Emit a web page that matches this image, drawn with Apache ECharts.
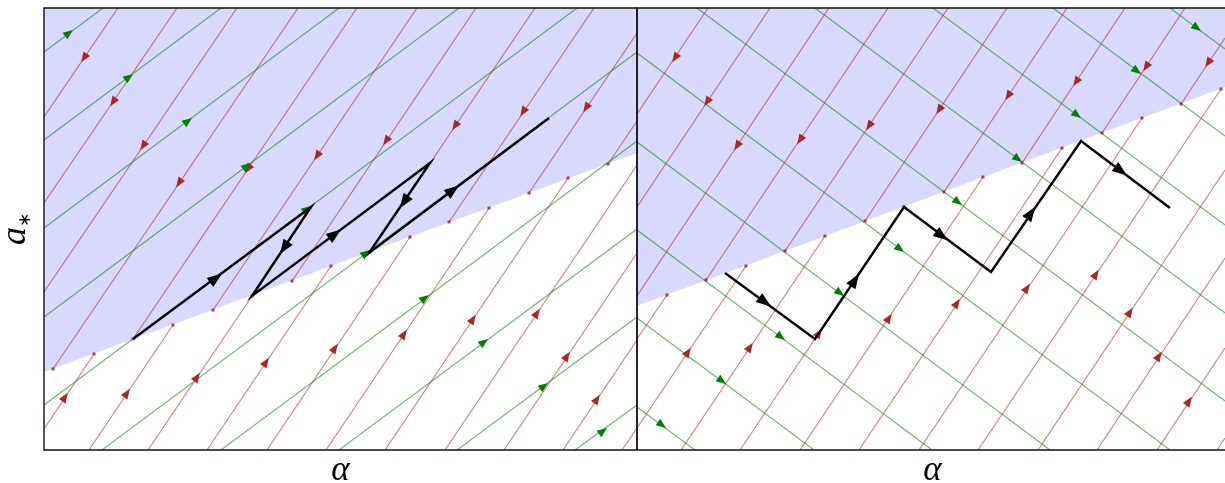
<!DOCTYPE html>
<html><head><meta charset="utf-8">
<script src="https://cdn.jsdelivr.net/npm/echarts@6/dist/echarts.min.js"></script>
<style>html,body{margin:0;padding:0;background:#fff}#c{width:1225px;height:483px}</style>
</head><body><div id="c"></div>
<script>
// ---------- data (alpha, a*) ----------
const xRange1 = [44, 637];
const xRange2 = [637, 1228];
const yRange = [8, 450];
const xLabel = 'α';

// Panel 1 : switching line and trajectories
const p1Boundary = [[44, 372], [637, 153]];
const p1RedUpper = [ // [x1,y1,x2,y2], flow toward (x1,y1)
  [44,117,118,8],[44,203,177,8],[44,292,237,8],[53,369,298,8],[133,339,357,8],
  [213,310,417,8],[292,281,476,8],[370,252,535,8],[449,222,594,8],[529,193,637,33],[608,164,637,121]
];
const p1RedLower = [ // flow toward (x2,y2)
  [44,429,94,354],[89,450,173,325],[148,450,252,296],[207,450,331,266],[267,450,410,237],
  [326,450,489,208],[385,450,568,178],[445,450,637,165],[504,450,637,253],[563,450,637,340],[622,450,637,428]
];
const p1Green = [ // flow toward (x2,y2)
  [44,52,103,8],[44,140,221,8],[44,228,339,8],[44,317,459,8],[44,405,577,8],
  [102,450,637,52],[221,450,637,141],[339,450,637,229],[457,450,637,317],[575,450,637,405]
];
const p1RedUpperArrows = [[84,58,0],[113,102,1],[143,146,2],[179,183,3],[248,169,4],[317,156,5],[386,141,6],[455,126,7],[523,112,8],[586,108,9]];
const p1RedLowerArrows = [[65,397,0],[127,393,1],[197,377,2],[266,362,3],[335,348,4],[404,334,5],[473,319,6],[537,313,7],[567,356,8],[597,399,9]];
const p1GreenArrows = [[69,33,0],[129,77,1],[188,121,2],[247,166,3],[307,209,4],[366,253,5],[425,298,6],[484,342,7],[544,386,8],[603,431,9]];
const p1Path = [[133,339],[311,207],[252,296],[430,163],[369,253],[549,118]];
const p1PathArrows = [[216,278,0],[284,248,1],[335,234,2],[404,202,3],[453,190,4]];

// Panel 2
const p2Boundary = [[637, 306], [1228, 86]];
const p2RedUpper = [
  [637,114,708,8],[637,207,770,8],[637,296,829,8],[706,280,888,8],[785,251,948,8],
  [865,221,1007,8],[944,192,1067,8],[1022,163,1125,8],[1102,133,1185,8],[1181,104,1225,38]
];
const p2RedLower = [
  [637,339,667,295],[637,428,746,266],[681,450,825,236],[740,450,904,207],[800,450,983,177],
  [859,450,1062,148],[919,450,1142,118],[978,450,1221,89],[1038,450,1225,170],[1097,450,1225,258],
  [1157,450,1225,348],[1217,450,1225,438]
];
const p2Green = [
  [637,53,1170,450],[637,142,1050,450],[637,230,932,450],[637,318,814,450],[637,407,695,450],
  [697,8,1225,401],[815,8,1225,313],[933,8,1225,225],[1053,8,1225,136],[1170,8,1225,49]
];
const p2RedUpperArrows = [[675,58,0],[707,102,1],[737,146,2],[800,140,3],[869,126,4],[939,110,5],[1008,96,6],[1076,82,7],[1146,67,8],[1208,63,9]];
const p2RedLowerArrows = [[688,352,1],[750,347,2],[819,333,3],[889,318,4],[957,303,5],[1027,288,6],[1096,274,7],[1130,312,8],[1159,356,9],[1189,401,10]];
const p2GreenArrows = [[662,425,4],[722,381,3],[781,337,2],[840,293,1],[900,249,0],[958,202,5],[1018,159,6],[1077,115,7],[1137,71,8],[1197,28,9]];
const p2Path = [[725,273],[815,339],[904,207],[991,272],[1081,141],[1170,208]];
const p2PathArrows = [[765,302,0],[855,280,1],[942,236,2],[1031,213,3],[1121,171,4]];

// ---------- styles ----------
const SHADE = '#d9d9ff';
const RED_LINE = 'rgba(165,42,42,0.6)';
const RED_HEAD = '#a82828';
const GREEN_LINE = 'rgba(0,128,0,0.58)';
const GREEN_HEAD = '#008000';
const HEAD = 'path://M0,0L10,5L0,10Z';

const chart = echarts.init(document.getElementById('c'), null, {renderer: 'canvas'});

const serifIt = {fontFamily: 'Liberation Serif', fontStyle: 'italic', color: '#000'};
const baseAxisX = (i, r) => ({
  type: 'value', gridIndex: i, min: r[0], max: r[1],
  axisLine: {show: false}, axisTick: {show: false}, axisLabel: {show: false}, splitLine: {show: false},
  name: xLabel, nameLocation: 'middle', nameGap: 3,
  nameTextStyle: Object.assign({fontSize: 35}, serifIt)
});
const baseAxisY = (i) => ({
  type: 'value', gridIndex: i, min: yRange[0], max: yRange[1], inverse: true,
  axisLine: {show: false}, axisTick: {show: false}, axisLabel: {show: false}, splitLine: {show: false},
  name: i === 0 ? '{a|a}{s|∗}' : '', nameLocation: 'middle', nameRotate: 90, nameGap: 10,
  nameTextStyle: {rich: {
    a: Object.assign({fontSize: 36, lineHeight: 36, verticalAlign: 'middle'}, serifIt),
    s: {fontFamily: 'DejaVu Sans', fontSize: 17, color: '#000', lineHeight: 36, verticalAlign: 'bottom', padding: [13, 0, 0, 0]}
  }}
});

function segSeries(i, data, color, z) {
  return {
    type: 'custom', xAxisIndex: i, yAxisIndex: i, data: data, z: z, silent: true, clip: true,
    renderItem: function (params, api) {
      const a = api.coord([api.value(0), api.value(1)]);
      const b = api.coord([api.value(2), api.value(3)]);
      return {type: 'line', shape: {x1: a[0], y1: a[1], x2: b[0], y2: b[1]}, style: {stroke: color, lineWidth: 1.1}};
    }
  };
}
function shadeSeries(i, boundary) {
  return {
    type: 'custom', xAxisIndex: i, yAxisIndex: i, data: [[0]], z: 1, silent: true, clip: true,
    renderItem: function (params, api) {
      const pts = [boundary[0], boundary[1], [boundary[1][0], yRange[0]], [boundary[0][0], yRange[0]]].map(p => api.coord(p));
      return {type: 'polygon', shape: {points: pts}, style: {fill: SHADE}};
    }
  };
}
function dotsFrom(upper, lower, xr) {
  const d = [];
  upper.forEach(s => { if (s[0] > xr[0]) d.push([s[0], s[1]]); });
  lower.forEach(s => { if (s[2] < xr[1] - 4) d.push([s[2], s[3]]); });
  return d;
}

const panels = [
  {xr: xRange1, boundary: p1Boundary, up: p1RedUpper, low: p1RedLower, green: p1Green,
   upA: p1RedUpperArrows, lowA: p1RedLowerArrows, gA: p1GreenArrows, path: p1Path, pathA: p1PathArrows},
  {xr: xRange2, boundary: p2Boundary, up: p2RedUpper, low: p2RedLower, green: p2Green,
   upA: p2RedUpperArrows, lowA: p2RedLowerArrows, gA: p2GreenArrows, path: p2Path, pathA: p2PathArrows}
];

const gridBase = {show: true, borderColor: '#111', borderWidth: 1.4, backgroundColor: 'transparent', z: 10,
  containLabel: false, outerBoundsMode: 'none'};
const option = {
  animation: false,
  backgroundColor: '#fff',
  grid: [
    Object.assign({left: 44, top: 8, width: 593, height: 442}, gridBase),
    Object.assign({left: 637, top: 8, right: -3, height: 442}, gridBase)
  ],
  xAxis: [baseAxisX(0, xRange1), baseAxisX(1, xRange2)],
  yAxis: [baseAxisY(0), baseAxisY(1)],
  series: []
};
panels.forEach((p, i) => {
  option.series.push(shadeSeries(i, p.boundary));
  option.series.push(segSeries(i, p.green, GREEN_LINE, 2));
  option.series.push(segSeries(i, p.up.concat(p.low), RED_LINE, 3));
  option.series.push({type: 'line', xAxisIndex: i, yAxisIndex: i, data: p.path, symbol: 'none', z: 8, silent: true,
    lineStyle: {color: '#000', width: 2.4, join: 'miter'}});
});
chart.setOption(option);

function ang(i, from, to) {
  const a = chart.convertToPixel({gridIndex: i}, from);
  const b = chart.convertToPixel({gridIndex: i}, to);
  return Math.atan2(-(b[1] - a[1]), b[0] - a[0]) * 180 / Math.PI;
}
function arrowSeries(i, arrows, lines, towardFirst, color, size, z) {
  return {
    type: 'scatter', xAxisIndex: i, yAxisIndex: i, symbol: HEAD, symbolSize: size, z: z, silent: true,
    itemStyle: {color: color, opacity: 1},
    data: arrows.map(a => {
      const s = lines[a[2]];
      const p = [s[0], s[1]], q = [s[2], s[3]];
      return {value: [a[0], a[1]], symbolRotate: towardFirst ? ang(i, q, p) : ang(i, p, q)};
    })
  };
}
const extra = [];
panels.forEach((p, i) => {
  const pathSegs = p.path.slice(0, -1).map((pt, k) => [pt[0], pt[1], p.path[k + 1][0], p.path[k + 1][1]]);
  extra.push({type: 'scatter', xAxisIndex: i, yAxisIndex: i, symbol: 'rect', symbolSize: 3, z: 4, silent: true,
    itemStyle: {color: '#8f1f1f'}, data: dotsFrom(p.up, p.low, p.xr)});
  extra.push(arrowSeries(i, p.upA, p.up, true, RED_HEAD, [10, 8], 5));
  extra.push(arrowSeries(i, p.lowA, p.low, false, RED_HEAD, [10, 8], 5));
  extra.push(arrowSeries(i, p.gA, p.green, false, GREEN_HEAD, [10, 8], 6));
  extra.push(arrowSeries(i, p.pathA, pathSegs, false, '#000', [15, 11], 9));
});
chart.setOption({series: option.series.concat(extra)});
</script></body></html>
